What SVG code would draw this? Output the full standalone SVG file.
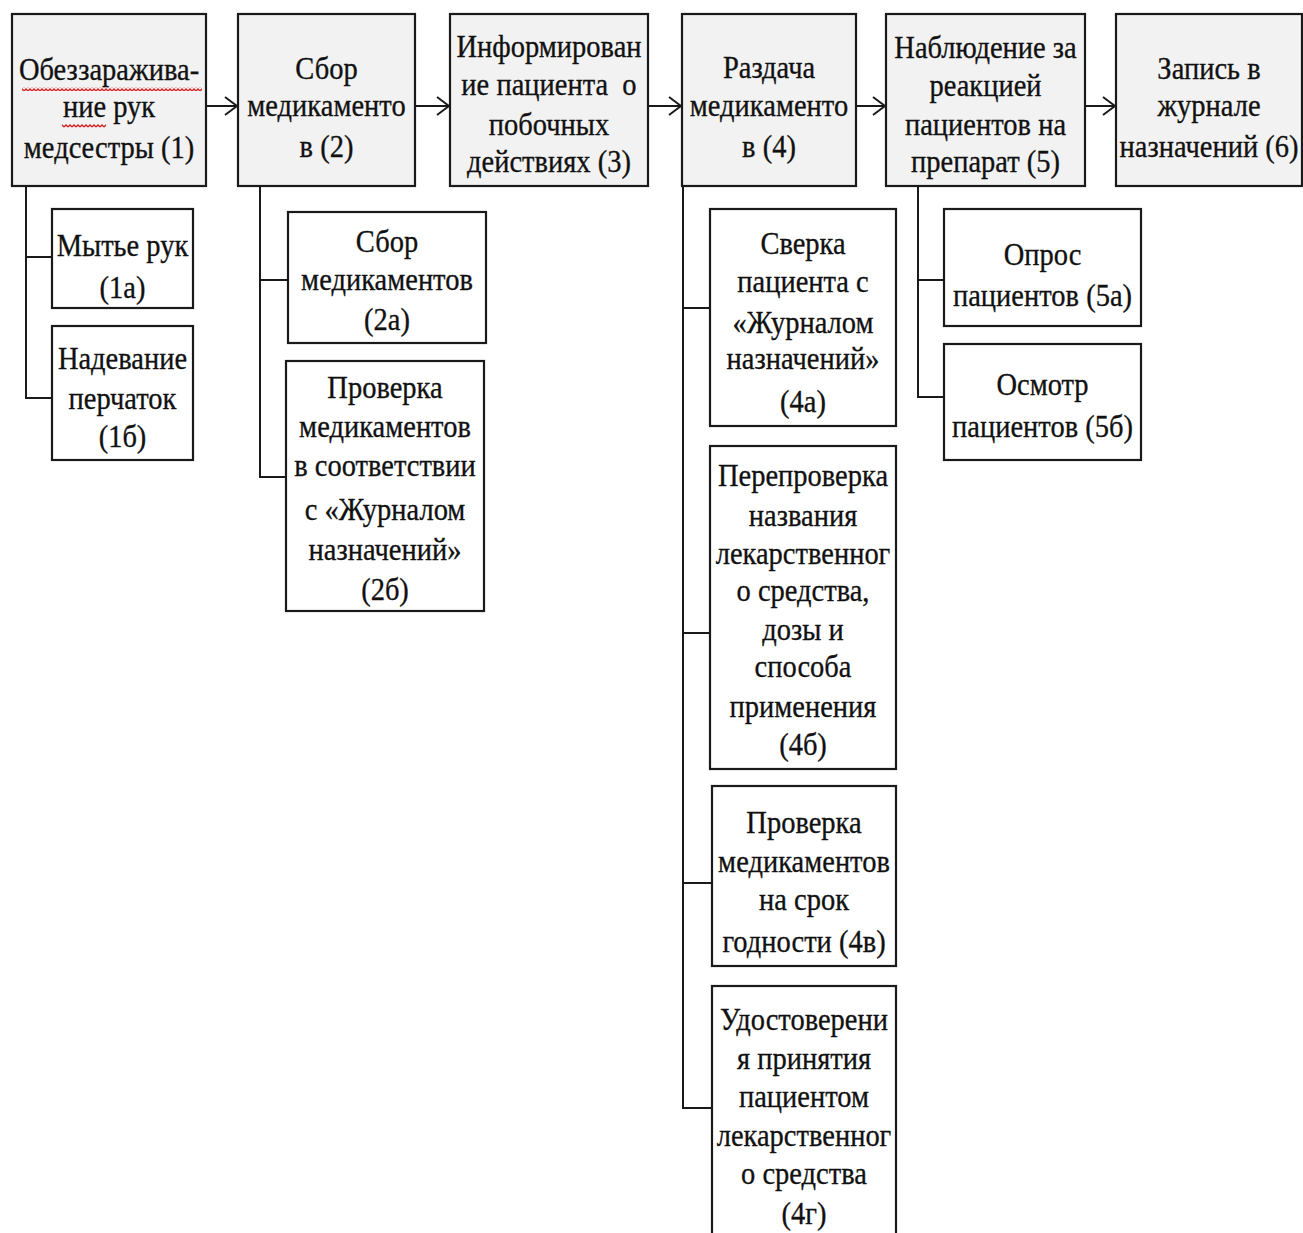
<svg xmlns="http://www.w3.org/2000/svg" width="1303" height="1233" viewBox="0 0 1303 1233">
  <style>
    .main { fill: #f2f2f2; stroke: #1a1a1a; stroke-width: 2.2; }
    .sub { fill: #ffffff; stroke: #1a1a1a; stroke-width: 2.2; }
    text { font-family: "Liberation Serif", "Times New Roman", serif; font-size: 28.5px; fill: #111; stroke: #111; stroke-width: 0.3; text-anchor: middle; }
    .conn { fill: none; stroke: #1a1a1a; stroke-width: 2; }
    .arrow { fill: none; stroke: #1a1a1a; stroke-width: 2; marker-end: url(#chev); }
  </style>
  <defs>
    <marker id="chev" viewBox="0 0 14 20" refX="13" refY="10" markerWidth="14" markerHeight="20" markerUnits="userSpaceOnUse" orient="auto">
      <path d="M1,1 L13,10 L1,19" fill="none" stroke="#1a1a1a" stroke-width="2"/>
    </marker>
    <pattern id="squiggle" x="0" y="0" width="4" height="4" patternUnits="userSpaceOnUse">
      <polyline points="0,3 2,1 4,3" fill="none" stroke="#d02020" stroke-width="1.3"/>
    </pattern>
  </defs>

  <rect width="1303" height="1233" fill="#ffffff"/>

  <!-- connectors -->
  <g id="connectors">
    <line class="arrow" x1="206" y1="106" x2="237" y2="106"/>
    <line class="arrow" x1="415" y1="106" x2="449" y2="106"/>
    <line class="arrow" x1="648" y1="106" x2="681" y2="106"/>
    <line class="arrow" x1="856" y1="106" x2="885" y2="106"/>
    <line class="arrow" x1="1085" y1="106" x2="1115" y2="106"/>
    <!-- step 1 branches -->
    <path class="conn" d="M26,186 V398 H52 M26,257 H52"/>
    <!-- step 2 branches -->
    <path class="conn" d="M260,186 V477 H286 M260,280 H288"/>
    <!-- step 4 branches -->
    <path class="conn" d="M683,186 V1108 H712 M683,308 H710 M683,633 H710 M683,883 H712"/>
    <!-- step 5 branches -->
    <path class="conn" d="M918,186 V397 H944 M918,280 H944"/>
  </g>

  <!-- each line is stretched slightly upright: translate(x, baseline) scale(1,1.12) -->
  <g id="step1">
    <rect class="main" x="12" y="14" width="194" height="172"/>
    <rect x="22" y="87" width="180" height="4" fill="url(#squiggle)"/>
    <rect x="62" y="124" width="44" height="4" fill="url(#squiggle)"/>
    <text transform="translate(109,80) scale(1,1.12)">Обеззаражива-</text>
    <text transform="translate(109,117) scale(1,1.12)">ние рук</text>
    <text transform="translate(109,158) scale(1,1.12)">медсестры (1)</text>
  </g>
  <g id="step2">
    <rect class="main" x="238" y="14" width="177" height="172"/>
    <text transform="translate(326.5,79) scale(1,1.12)">Сбор</text>
    <text transform="translate(326.5,116) scale(1,1.12)">медикаменто</text>
    <text transform="translate(326.5,157) scale(1,1.12)">в (2)</text>
  </g>
  <g id="step3">
    <rect class="main" x="450" y="14" width="198" height="172"/>
    <text transform="translate(549,57) scale(1,1.12)">Информирован</text>
    <text transform="translate(549,95) scale(1,1.12)">ие пациента&#160; о</text>
    <text transform="translate(549,135) scale(1,1.12)">побочных</text>
    <text transform="translate(549,172) scale(1,1.12)">действиях (3)</text>
  </g>
  <g id="step4">
    <rect class="main" x="682" y="14" width="174" height="172"/>
    <text transform="translate(769,78) scale(1,1.12)">Раздача</text>
    <text transform="translate(769,116) scale(1,1.12)">медикаменто</text>
    <text transform="translate(769,157) scale(1,1.12)">в (4)</text>
  </g>
  <g id="step5">
    <rect class="main" x="886" y="14" width="199" height="172"/>
    <text transform="translate(985.5,58) scale(1,1.12)">Наблюдение за</text>
    <text transform="translate(985.5,96) scale(1,1.12)">реакцией</text>
    <text transform="translate(985.5,135) scale(1,1.12)">пациентов на</text>
    <text transform="translate(985.5,172) scale(1,1.12)">препарат (5)</text>
  </g>
  <g id="step6">
    <rect class="main" x="1116" y="14" width="186" height="172"/>
    <text transform="translate(1209,79) scale(1,1.12)">Запись в</text>
    <text transform="translate(1209,116) scale(1,1.12)">журнале</text>
    <text transform="translate(1209,157) scale(1,1.12)">назначений (6)</text>
  </g>

  <g id="step1a">
    <rect class="sub" x="52" y="209" width="141" height="99"/>
    <text transform="translate(122.5,256) scale(1,1.12)">Мытье рук</text>
    <text transform="translate(122.5,298) scale(1,1.12)">(1а)</text>
  </g>
  <g id="step1b">
    <rect class="sub" x="52" y="326" width="141" height="134"/>
    <text transform="translate(122.5,369) scale(1,1.12)">Надевание</text>
    <text transform="translate(122.5,409) scale(1,1.12)">перчаток</text>
    <text transform="translate(122.5,447) scale(1,1.12)">(1б)</text>
  </g>

  <g id="step2a">
    <rect class="sub" x="288" y="212" width="198" height="131"/>
    <text transform="translate(387,252) scale(1,1.12)">Сбор</text>
    <text transform="translate(387,290) scale(1,1.12)">медикаментов</text>
    <text transform="translate(387,330) scale(1,1.12)">(2а)</text>
  </g>
  <g id="step2b">
    <rect class="sub" x="286" y="361" width="198" height="250"/>
    <text transform="translate(385,398) scale(1,1.12)">Проверка</text>
    <text transform="translate(385,437) scale(1,1.12)">медикаментов</text>
    <text transform="translate(385,476) scale(1,1.12)">в соответствии</text>
    <text transform="translate(385,520) scale(1,1.12)">с «Журналом</text>
    <text transform="translate(385,560) scale(1,1.12)">назначений»</text>
    <text transform="translate(385,600) scale(1,1.12)">(2б)</text>
  </g>

  <g id="step4a">
    <rect class="sub" x="710" y="209" width="186" height="217"/>
    <text transform="translate(803,254) scale(1,1.12)">Сверка</text>
    <text transform="translate(803,292) scale(1,1.12)">пациента с</text>
    <text transform="translate(803,333) scale(1,1.12)">«Журналом</text>
    <text transform="translate(803,369) scale(1,1.12)">назначений»</text>
    <text transform="translate(803,412) scale(1,1.12)">(4а)</text>
  </g>
  <g id="step4b">
    <rect class="sub" x="710" y="446" width="186" height="323"/>
    <text transform="translate(803,486) scale(1,1.12)">Перепроверка</text>
    <text transform="translate(803,526) scale(1,1.12)">названия</text>
    <text transform="translate(803,564) scale(1,1.12)">лекарственног</text>
    <text transform="translate(803,601) scale(1,1.12)">о средства,</text>
    <text transform="translate(803,640) scale(1,1.12)">дозы и</text>
    <text transform="translate(803,677) scale(1,1.12)">способа</text>
    <text transform="translate(803,717) scale(1,1.12)">применения</text>
    <text transform="translate(803,755) scale(1,1.12)">(4б)</text>
  </g>
  <g id="step4c">
    <rect class="sub" x="712" y="786" width="184" height="180"/>
    <text transform="translate(804,833) scale(1,1.12)">Проверка</text>
    <text transform="translate(804,872) scale(1,1.12)">медикаментов</text>
    <text transform="translate(804,910) scale(1,1.12)">на срок</text>
    <text transform="translate(804,952) scale(1,1.12)">годности (4в)</text>
  </g>
  <g id="step4d">
    <rect class="sub" x="712" y="986" width="184" height="260"/>
    <text transform="translate(804,1030) scale(1,1.12)">Удостоверени</text>
    <text transform="translate(804,1069) scale(1,1.12)">я принятия</text>
    <text transform="translate(804,1107) scale(1,1.12)">пациентом</text>
    <text transform="translate(804,1146) scale(1,1.12)">лекарственног</text>
    <text transform="translate(804,1184) scale(1,1.12)">о средства</text>
    <text transform="translate(804,1224) scale(1,1.12)">(4г)</text>
  </g>

  <g id="step5a">
    <rect class="sub" x="944" y="209" width="197" height="117"/>
    <text transform="translate(1042.5,265) scale(1,1.12)">Опрос</text>
    <text transform="translate(1042.5,306) scale(1,1.12)">пациентов (5а)</text>
  </g>
  <g id="step5b">
    <rect class="sub" x="944" y="344" width="197" height="116"/>
    <text transform="translate(1042.5,395) scale(1,1.12)">Осмотр</text>
    <text transform="translate(1042.5,437) scale(1,1.12)">пациентов (5б)</text>
  </g>
</svg>
